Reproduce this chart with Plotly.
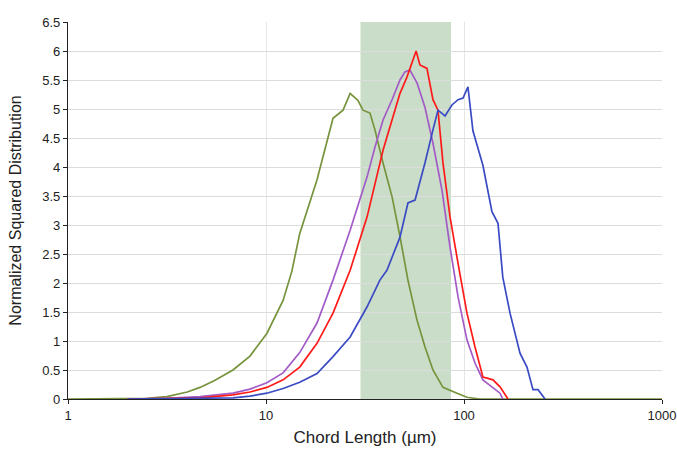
import plotly.graph_objects as go

# Chord length (µm) and normalized squared distribution for four samples
green_x = [1, 2.0, 2.5, 3.16, 4.0, 4.64, 5.5, 6.81, 8.3, 10.1, 12.2, 13.5, 14.8, 18.1, 21.0, 21.8, 24.5, 26.6,
           29.1, 30.9, 33.5, 35.5, 39.0, 43.3, 47.5, 52.1, 57.9, 63.5, 69.7, 78.3, 92.2, 103.5, 120, 1000]
green_y = [0, 0, 0.01, 0.04, 0.12, 0.2, 0.32, 0.5, 0.74, 1.13, 1.7, 2.2, 2.85, 3.78, 4.64, 4.84, 4.98, 5.27,
           5.15, 4.98, 4.93, 4.64, 4.07, 3.49, 2.8, 2.05, 1.36, 0.9, 0.5, 0.2, 0.1, 0.03, 0, 0]

purple_x = [2.0, 3.16, 4.64, 6.81, 8.3, 10.1, 12.2, 14.8, 18.1, 21.8, 26.6, 32.4, 35.5, 39.0, 43.3, 47.5,
            50.3, 53.3, 57.9, 63.5, 69.7, 77.4, 85.0, 93.3, 103.5, 113.6, 124.6, 138.4, 152, 157]
purple_y = [0, 0.01, 0.04, 0.1, 0.17, 0.28, 0.45, 0.8, 1.31, 2.05, 2.91, 3.83, 4.34, 4.81, 5.16, 5.5,
            5.64, 5.67, 5.45, 5.03, 4.41, 3.6, 2.62, 1.76, 1.02, 0.62, 0.33, 0.21, 0.1, 0]

red_x = [2.0, 3.16, 4.64, 6.81, 8.3, 10.1, 12.2, 14.8, 18.1, 21.8, 26.6, 32.4, 39.0, 43.3, 47.5, 51.5,
         55.3, 57.3, 59.9, 65.0, 69.7, 73.9, 78.3, 85.0, 93.3, 103.5, 113.6, 124.6, 130.7, 140.1, 152,
         155.6, 166.8]
red_y = [0, 0.01, 0.02, 0.07, 0.12, 0.2, 0.33, 0.55, 0.96, 1.48, 2.22, 3.14, 4.29, 4.81, 5.27, 5.55,
         5.84, 6.0, 5.76, 5.7, 5.16, 4.98, 4.07, 3.14, 2.34, 1.48, 0.9, 0.38, 0.36, 0.33, 0.21,
         0.16, 0]

blue_x = [2.0, 4.64, 6.81, 8.3, 10.1, 12.2, 14.8, 18.1, 21.8, 26.6, 32.4, 37.6, 40.8, 47.5, 52.1, 56.6,
          63.5, 69.7, 73.9, 80.2, 86.9, 93.3, 98.9, 104.7, 111, 124.6, 138.4, 148.5, 157, 170.8, 191.8,
          208, 223, 236.5, 256.6]
blue_y = [0, 0.01, 0.02, 0.05, 0.1, 0.18, 0.29, 0.44, 0.73, 1.07, 1.59, 2.05, 2.22, 2.79, 3.38, 3.43,
          4.07, 4.64, 4.98, 4.88, 5.07, 5.16, 5.19, 5.38, 4.62, 4.03, 3.23, 3.03, 2.1, 1.48, 0.79,
          0.55, 0.16, 0.16, 0]

band_range = [30, 86]
x_ticks = [1, 10, 100, 1000]
x_tick_text = ["1", "10", "100", "1000"]
y_ticks = [0, 0.5, 1, 1.5, 2, 2.5, 3, 3.5, 4, 4.5, 5, 5.5, 6, 6.5]
y_tick_text = ["0", "0.5", "1", "1.5", "2", "2.5", "3", "3.5", "4", "4.5", "5", "5.5", "6", "6.5"]

fig = go.Figure()

fig.add_shape(type="rect", xref="x", yref="paper", x0=band_range[0], x1=band_range[1], y0=0, y1=1,
              fillcolor="rgb(202,221,200)", line=dict(width=0), layer="below")

series = [
    (green_x, green_y, "#77933c"),
    (purple_x, purple_y, "#a35bc7"),
    (red_x, red_y, "#ff1a1a"),
    (blue_x, blue_y, "#3a4bc4"),
]
for xs, ys, col in series:
    fig.add_trace(go.Scatter(x=xs, y=ys, mode="lines", line=dict(color=col, width=1.7),
                             showlegend=False, cliponaxis=True))

fig.update_layout(
    width=677, height=450,
    margin=dict(l=68, r=15, t=22, b=51),
    paper_bgcolor="white", plot_bgcolor="white",
    font=dict(family="Liberation Sans, Arial, sans-serif", size=13, color="#222"),
)
fig.update_xaxes(
    type="log", range=[0, 3], tickvals=x_ticks, ticktext=x_tick_text, automargin=False,
    ticklabeloverflow="allow",
    showline=True, linecolor="#222", linewidth=1.3, ticks="outside", ticklen=4, tickcolor="#222",
    showgrid=True, gridcolor="#e6e6e6", gridwidth=1, zeroline=False,
    title=dict(text="Chord Length (µm)", font=dict(size=17), standoff=9),
    tickfont=dict(size=13),
)
fig.update_yaxes(
    range=[0, 6.5], tickvals=y_ticks, ticktext=y_tick_text, automargin=False,
    ticklabeloverflow="allow",
    showline=True, linecolor="#222", linewidth=1.3, ticks="outside", ticklen=4, tickcolor="#222",
    showgrid=True, gridcolor="#dcdcdc", gridwidth=1, zeroline=False,
    title=dict(text="Normalized Squared Distribution", font=dict(size=16), standoff=16),
    tickfont=dict(size=13),
)

fig.write_html("out.html", config={"displayModeBar": False},
               post_script="document.body.style.margin='0';document.body.style.overflow='hidden';")
